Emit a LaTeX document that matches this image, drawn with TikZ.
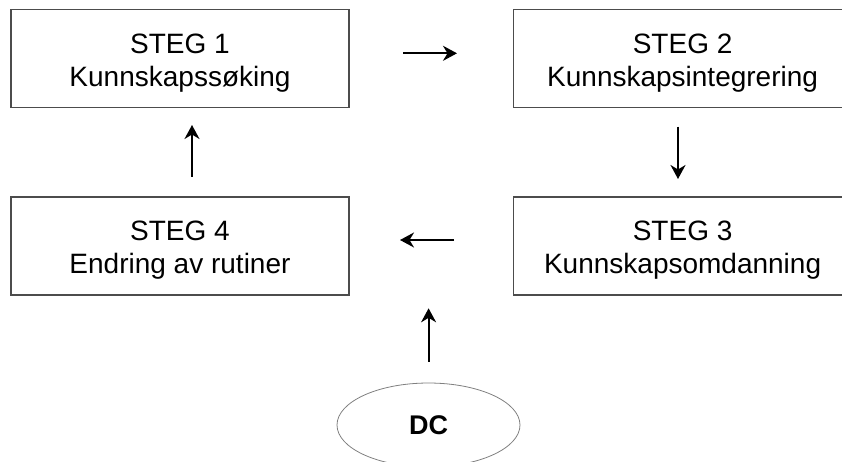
\documentclass[tikz,border=0pt]{standalone}
\usepackage{fontspec}
\setmainfont{Liberation Sans}
\usetikzlibrary{arrows.meta,shapes.geometric}
\newcommand{\topstrut}{\rule{0pt}{28pt}}
\begin{document}
\begin{tikzpicture}[x=1pt,y=-1pt,
  stepbox/.style={draw=black!70,line width=1.1pt,minimum width=338pt,minimum height=98pt,
    align=center,font=\fontsize{28}{33}\selectfont,inner sep=0pt},
  arr/.style={line width=2pt,-{Stealth[length=14pt,width=15pt,inset=4.5pt]}},
  dcnode/.style={draw=black!50,line width=0.8pt,ellipse,minimum width=183pt,minimum height=84pt,
    font=\fontsize{27}{28}\selectfont\bfseries,inner sep=0pt}]
\useasboundingbox (0,0) rectangle (842,461);
\node[stepbox] (s1) at (180,58.5) {\topstrut STEG 1\\Kunnskapssøking};
\node[stepbox] (s2) at (682.6,58.5) {\topstrut STEG 2\\Kunnskapsintegrering};
\node[stepbox] (s3) at (682.6,246) {\topstrut STEG 3\\Kunnskapsomdanning};
\node[stepbox] (s4) at (180,246) {\topstrut STEG 4\\Endring av rutiner};
\node[dcnode] (dc) at (428.5,425) {DC};
\coordinate (a1s) at (403,53.3);
\coordinate (a1e) at (457,53.3);
\coordinate (a2s) at (678,126.7);
\coordinate (a2e) at (678,179);
\coordinate (a3s) at (454,240);
\coordinate (a3e) at (400,240);
\coordinate (a4s) at (192,176.7);
\coordinate (a4e) at (192,125);
\coordinate (a5s) at (428.6,361.7);
\coordinate (a5e) at (428.6,308.3);
\draw[arr] (a1s) -- (a1e);
\draw[arr] (a2s) -- (a2e);
\draw[arr] (a3s) -- (a3e);
\draw[arr] (a4s) -- (a4e);
\draw[arr] (a5s) -- (a5e);
\end{tikzpicture}
\end{document}
